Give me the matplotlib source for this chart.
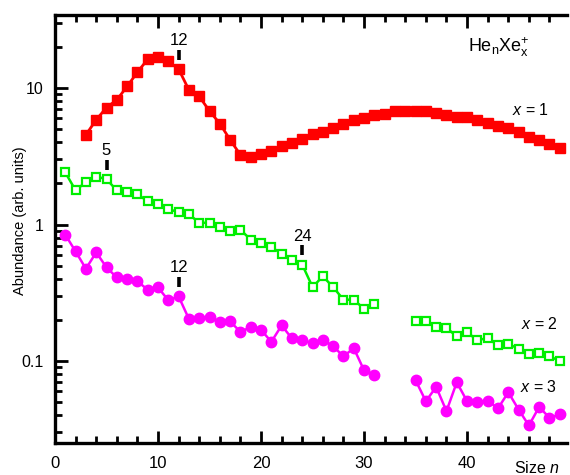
import numpy as np
import matplotlib
matplotlib.use("Agg")
import matplotlib.pyplot as plt
from matplotlib.ticker import LogLocator, FixedLocator, MultipleLocator, NullFormatter, FuncFormatter
from matplotlib.transforms import offset_copy

plt.rcParams['font.family'] = ['Liberation Sans', 'DejaVu Sans']
plt.rcParams['mathtext.fontset'] = 'custom'
plt.rcParams['mathtext.rm'] = 'Liberation Sans'
plt.rcParams['mathtext.it'] = 'Liberation Sans:italic'

# ---- data ----
n_x1 = list(range(3, 50))
ab_x1 = [4.55, 5.86, 7.21, 8.2, 10.3, 13.1, 16.3, 16.8, 15.7, 13.8, 9.7, 8.7, 6.8,
         5.5, 4.18, 3.24, 3.15, 3.28, 3.44, 3.74, 3.99, 4.22, 4.6, 4.81, 5.14, 5.44,
         5.86, 6.03, 6.37, 6.45, 6.75, 6.75, 6.75, 6.8, 6.56, 6.37, 6.19, 6.13, 5.8,
         5.55, 5.3, 5.1, 4.76, 4.42, 4.18, 3.89, 3.63]

n_x2 = list(range(1, 50))
ab_x2 = [2.41, 1.78, 2.05, 2.25, 2.15, 1.78, 1.72, 1.67, 1.48, 1.42, 1.30, 1.23, 1.19,
         1.03, 1.03, 0.953, 0.89, 0.916, 0.774, 0.732, 0.684, 0.611, 0.546, 0.508,
         0.348, 0.417, 0.348, 0.281, 0.281, 0.241, 0.262, None, None, None,
         0.195, 0.195, 0.177, 0.175, 0.151, 0.162, 0.142, 0.147, 0.130, 0.133, 0.123,
         0.113, 0.114, 0.108, 0.100]

n_x3 = list(range(1, 50))
ab_x3 = [0.842, 0.635, 0.474, 0.625, 0.485, 0.409, 0.399, 0.383, 0.333, 0.346, 0.278,
         0.297, 0.203, 0.207, 0.210, 0.192, 0.195, 0.163, 0.177, 0.169, 0.138, 0.182,
         0.146, 0.142, 0.135, 0.142, 0.128, 0.108, 0.124, 0.0853, 0.0785, None, None,
         None, 0.0722, 0.0506, 0.0645, 0.0428, 0.0697, 0.0506, 0.0501, 0.0512, 0.0448,
         0.0589, 0.044, 0.0336, 0.046, 0.0382, 0.0405]

marks = [(12, 13.8, "12"), (5, 2.15, "5"), (24, 0.508, "24"), (12, 0.297, "12")]

series_labels = ["$\\mathit{x}$ = 1", "$\\mathit{x}$ = 2", "$\\mathit{x}$ = 3"]
title_label = "He$_\\mathrm{n}$Xe$_\\mathrm{x}^{+}$"

def arr(v):
    return np.array([np.nan if a is None else a for a in v], dtype=float)

fig = plt.figure(figsize=(5.7, 4.75), dpi=100)
ax = fig.add_axes([55/570, 1-443/475, 512/570, 428/475])

ax.plot(n_x1, arr(ab_x1), '-', color='#ff0000', lw=2, marker='s', ms=6.8,
        mfc='#ff0000', mec='#ff0000', zorder=3)
ax.plot(n_x2, arr(ab_x2), '-', color='#00ee00', lw=1.8, marker='s', ms=6.3,
        mfc='white', mec='#00ee00', mew=1.6, zorder=3)
ax.plot(n_x3, arr(ab_x3), '-', color='#ff00ff', lw=1.8, marker='o', ms=7.5,
        mfc='#ff00ff', mec='#ff00ff', zorder=3)

ax.set_yscale('log')
ax.set_xlim(0, 49.7)
ax.set_ylim(0.025, 34.4)

# annotations
tr_tick = offset_copy(ax.transData, fig=fig, x=0, y=14.5, units='dots')
for n, v, s in marks:
    ax.plot([n], [v], marker='|', ms=7, mew=2.6, color='black', transform=tr_tick,
            clip_on=False)
    ax.annotate(s, (n, v), xytext=(0, 21), textcoords='offset pixels',
                ha='center', va='bottom', fontsize=12)

# ticks
ax.xaxis.set_major_locator(MultipleLocator(10))
ax.xaxis.set_minor_locator(MultipleLocator(2))
ax.yaxis.set_major_locator(FixedLocator([0.1, 1, 10]))
ax.yaxis.set_minor_locator(LogLocator(base=10, subs=np.arange(2, 10), numticks=20))
ax.yaxis.set_major_formatter(FuncFormatter(lambda v, p: f"{v:g}"))
ax.yaxis.set_minor_formatter(NullFormatter())
ax.tick_params(axis='both', which='major', direction='in', length=9, width=2)
ax.tick_params(axis='x', which='major', labelsize=12, pad=9)
ax.tick_params(axis='y', which='major', labelsize=11.5, pad=8)
ax.tick_params(axis='both', which='minor', direction='in', length=5, width=2)
ax.tick_params(axis='x', top=True, which='both')
ax.tick_params(axis='y', right=False, which='both')

for side in ['left', 'bottom', 'top']:
    ax.spines[side].set_linewidth(2.4)
ax.spines['right'].set_visible(False)

ax.set_ylabel("Abundance (arb. units)", fontsize=10.5)
ax.yaxis.set_label_coords(-0.055, 0.52)

fig.text(537/570, 1-468/475, "Size $\\mathit{n}$", ha='center', va='center', fontsize=11.5)

fig.text(499/570, 1-47/475, title_label, ha='center', va='center', fontsize=13)
fig.text(531/570, 1-110/475, series_labels[0], ha='center', va='center', fontsize=11.5)
fig.text(539/570, 1-324/475, series_labels[1], ha='center', va='center', fontsize=11.5)
fig.text(539/570, 1-387/475, series_labels[2], ha='center', va='center', fontsize=11.5)

fig.savefig("out.png", dpi=100)
